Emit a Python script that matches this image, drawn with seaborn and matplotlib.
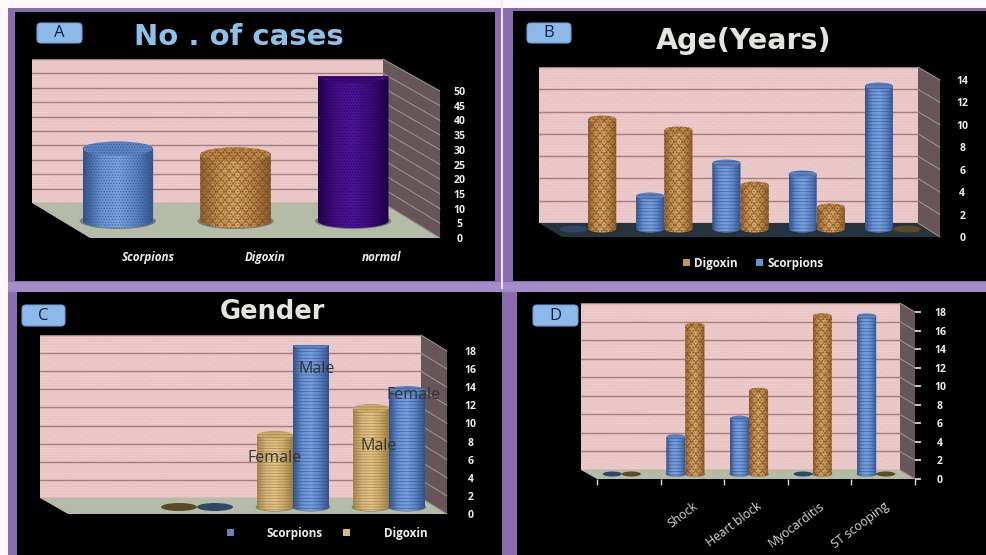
import numpy as np
import pandas as pd
import matplotlib
matplotlib.use("Agg")
import matplotlib.pyplot as plt
import seaborn as sns
from matplotlib.colors import LinearSegmentedColormap, to_rgba
from matplotlib.patches import Ellipse, FancyBboxPatch, Patch, Polygon, Rectangle

# ---- chart values -------------------------------------------------------
CASE_GROUPS = ["Scorpions", "Digoxin", "normal"]
CASE_COUNTS = [25, 23, 50]

AGE_BANDS = ["1", "2", "3", "4", "5"]
AGE_SCORPIONS = [0, 3, 6, 5, 13]
AGE_DIGOXIN = [10, 9, 4, 2, 0]

GENDER_SLOTS = ["none", "first", "second"]
GENDER_DIGOXIN = [0, 8, 11]
GENDER_SCORPIONS = [0, 18, 13]
GENDER_TAGS = [("Digoxin", 1, "Female"), ("Scorpions", 1, "Male"),
               ("Digoxin", 2, "Male"), ("Scorpions", 2, "Female")]

ECG_FINDINGS = ["", "Shock", "Heart block", "Myocarditis", "ST scooping"]
ECG_SCORPIONS = [0, 4, 6, 0, 17]
ECG_DIGOXIN = [0, 16, 9, 17, 0]

CASE_TICKS = list(range(0, 51, 5))
AGE_TICKS = list(range(0, 15, 2))
COUNT_TICKS = list(range(0, 19, 2))

# ---- styling ------------------------------------------------------------
W, H = 987, 555
sns.set_theme(style="white")
plt.rcParams["font.family"] = ["Open Sans", "DejaVu Sans"]
plt.rcParams["hatch.linewidth"] = 0.6

PINK, GRID = "#eccaca", "#a67c80"
SAGE, SLATE = "#b4bca8", "#26323c"
SIDE, SIDE_LINE = "#66565a", "#a59698"
FRAME = "#8a6cae"

BLUE_STOPS = ["#34558f", "#6a92d2", "#7aa2e0", "#5c84c4", "#34558f"]
STYLES = {
    "blue": (BLUE_STOPS, "#2c4a80", "......"),
    "banded": (BLUE_STOPS, "#2c4a80", "-----"),
    "orange": (["#94642f", "#c99553", "#dcaa6a", "#c08a4a", "#8c5e2c"], "#6e421c", "xxxx......"),
    "tan": (["#a98a4e", "#d9b878", "#e6c88c", "#d0ae6c", "#a08248"], "#8a6c3a", "------"),
    "purple": (["#230050", "#45108a", "#4c1498", "#3c0c7c", "#200048"], "#1a0040", "......"),
}
ZERO_DISC = {"blue": "#2f4868", "banded": "#2f4868", "orange": "#5a4a28", "tan": "#5a4a28"}


def px_axes(fig, x0, x1, top, bottom, z):
    """Axes placed by pixel edges, measured from the top-left of the figure."""
    ax = fig.add_axes([x0 / W, 1 - bottom / H, (x1 - x0) / W, (bottom - top) / H])
    ax.set_zorder(z)
    return ax


def draw_cylinders(ax, names, half_cap):
    """Turn the flat seaborn bars into shaded cylinders with elliptical caps."""
    y0, y1 = ax.get_ylim()
    x0, x1 = ax.get_xlim()
    pos = ax.get_position()
    per_unit = pos.height * H / (y1 - y0)
    cap = half_cap / per_unit
    for container, name in zip(ax.containers, names):
        stops, ink, hatch = STYLES[name]
        ink = to_rgba(ink, 0.6)
        cmap = LinearSegmentedColormap.from_list(name, stops)
        for bar in container:
            left, width, value = bar.get_x(), bar.get_width(), bar.get_height()
            mid = left + width / 2
            if value == 0:
                bar.set_visible(False)
                ax.add_patch(Ellipse((mid, 0), width, 2 * cap,
                                     color=ZERO_DISC.get(name, "#333333"), lw=0, zorder=2))
                continue
            ax.add_patch(Ellipse((mid, 0), width * 1.08, 2.3 * cap,
                                 color="#20241f", alpha=0.4, lw=0, zorder=1))
            t = np.linspace(np.pi, 2 * np.pi, 40)
            rim = np.column_stack([mid + width / 2 * np.cos(t), cap * np.sin(t)])
            outline = np.vstack([[left, value], rim, [left + width, value]])
            image = ax.imshow(np.linspace(0, 1, 64)[None, :], cmap=cmap, aspect="auto",
                              extent=(left, left + width, -cap, value), zorder=3)
            image.set_clip_path(Polygon(outline, closed=True, transform=ax.transData))
            bar.set_facecolor("none")
            bar.set_edgecolor(ink)
            bar.set_hatch(hatch)
            bar.set_linewidth(0)
            bar.set_zorder(4)
            ax.add_patch(Polygon(rim, closed=True, facecolor="none", edgecolor=ink,
                                 hatch=hatch, lw=0, zorder=4))
            ax.add_patch(Ellipse((mid, value), width, 2 * cap, facecolor=stops[3],
                                 edgecolor=ink, hatch=hatch, lw=0, zorder=5))
    ax.set_xlim(x0, x1)
    ax.set_ylim(y0, y1)
    ax.axis("off")


def draw_stage(fig, bg, g, ticks, floor):
    """Back wall, floor, side wall and the front scale of one 3-D looking plot."""
    ymax = ticks[-1]
    wx0, wx1, wtop, wbot = g["wall"]
    fx0, fx1, ftop, fbot = g["front"]
    bg.add_patch(Polygon([(wx0, wbot), (wx1, wbot), (fx1, fbot), (fx0, fbot)], color=floor, lw=0, zorder=2))
    bg.add_patch(Polygon([(wx1, wtop), (fx1, ftop), (fx1, fbot), (wx1, wbot)], color=SIDE, lw=0, zorder=2))
    for v in ticks:
        f = v / ymax
        bg.plot([wx1, fx1], [wbot + (wtop - wbot) * f, fbot + (ftop - fbot) * f],
                color=SIDE_LINE, lw=0.7, zorder=3)

    wall = px_axes(fig, wx0, wx1, wtop, wbot, 1)
    wall.set_facecolor(PINK)
    wall.patch.set_edgecolor("#e3bcbc")
    wall.patch.set_hatch("......")
    wall.patch.set_linewidth(0)
    wall.set_ylim(0, ymax)
    wall.set_yticks(ticks)
    wall.grid(axis="y", color=GRID, lw=1.0)
    wall.set_xticks([])
    wall.tick_params(left=False, labelleft=False)
    sns.despine(ax=wall, left=True, bottom=True, right=True, top=True)

    front = px_axes(fig, fx0, fx1, ftop, fbot, 2)
    front.patch.set_alpha(0)
    front.set_ylim(0, ymax)
    front.set_yticks(ticks)
    front.yaxis.tick_right()
    front.tick_params(axis="y", right=g.get("ticklen", 0) > 0, length=g.get("ticklen", 0),
                      color="#dddddd", pad=g["pad"], labelsize=7.6, labelcolor="#eeeeee")
    for label in front.get_yticklabels():
        label.set_ha("center")
        label.set_fontweight("bold")
    sns.despine(ax=front, left=True, bottom=True, right=True, top=True)
    return front


def bar_layer(fig, g, ymax):
    x0, x1, base, per_unit, under = g["bars"]
    ax = px_axes(fig, x0, x1, base - per_unit * ymax, base + under, 3)
    ax.patch.set_alpha(0)
    return ax, (-under / per_unit, ymax)


def badge(x0, x1, y0, y1, letter):
    overlay.add_patch(FancyBboxPatch((x0 + 3, y0 + 3), x1 - x0 - 6, y1 - y0 - 6,
                                     boxstyle="round,pad=3,rounding_size=4", facecolor="#8db9ea",
                                     edgecolor="#6f9cd4", lw=0.8, zorder=20))
    overlay.text((x0 + x1) / 2, (y0 + y1) / 2, letter, ha="center", va="center",
                 color="#10203c", fontsize=12, zorder=21)


def bottom_legend(ax, names, colors, x, y, gap, spacing):
    handles = [Patch(facecolor=c, edgecolor="none", label=n) for n, c in zip(names, colors)]
    ax.legend(handles=handles, loc="center", bbox_to_anchor=(x / W, 1 - y / H),
              bbox_transform=fig.transFigure, ncols=2, frameon=False,
              labelcolor="#eeeeee", handlelength=0.6, handleheight=0.6,
              handletextpad=gap, columnspacing=spacing,
              prop={"size": 8.4, "weight": "bold"})


# ---- page with the four framed panels -----------------------------------
fig = plt.figure(figsize=(W / 100, H / 100), dpi=100, facecolor="#fbf7fb")
bg = fig.add_axes([0, 0, 1, 1], zorder=0)
bg.set_xlim(0, W)
bg.set_ylim(H, 0)
bg.axis("off")
overlay = fig.add_axes([0, 0, 1, 1], zorder=9)
overlay.set_xlim(0, W)
overlay.set_ylim(H, 0)
overlay.axis("off")

bg.add_patch(Rectangle((8, 8), W - 8, H - 8, color=FRAME, lw=0, zorder=0))
bg.add_patch(Rectangle((8, 282), W - 8, 10, color="#a48cc8", lw=0, zorder=0.5))
bg.add_patch(Rectangle((501, 0), 2, 289, color="#f0e8f4", lw=0, zorder=0.6))
for x0, x1, y0, y1 in [(15, 495, 12, 281), (513, 987, 11, 281), (17, 502, 292, 555), (517, 987, 292, 555)]:
    bg.add_patch(Rectangle((x0, y0), x1 - x0, y1 - y0, color="black", lw=0, zorder=1))

# ---- A: number of cases --------------------------------------------------
geo_a = {"wall": (32, 383, 59, 203), "front": (90, 440, 91, 238), "bars": (59, 412, 221, 2.9, 16), "pad": 14}
front = draw_stage(fig, bg, geo_a, CASE_TICKS, SAGE)
front.set_xlim(-0.5, 2.5)
front.set_xticks(range(3), CASE_GROUPS)
front.tick_params(axis="x", bottom=False, pad=3.5, labelsize=8.4, labelcolor="#eeeeee")
for label in front.get_xticklabels():
    label.set_fontweight("bold")
    label.set_fontstyle("italic")
ax, lim = bar_layer(fig, geo_a, 50)
cases = pd.DataFrame({"group": CASE_GROUPS, "count": CASE_COUNTS})
sns.barplot(data=cases, x="group", y="count", hue="group", order=CASE_GROUPS, hue_order=CASE_GROUPS,
            palette=dict(zip(CASE_GROUPS, ["#6a92d2", "#c99553", "#45108a"])),
            width=0.6, legend=False, errorbar=None, ax=ax)
ax.set_ylim(*lim)
draw_cylinders(ax, ["blue", "orange", "purple"], 7)
bg.text(239, 37, "No . of cases", ha="center", va="center", color="#8cc2ea",
        fontsize=21, fontweight="bold", family="DejaVu Sans", zorder=10)
badge(37, 82, 23, 43, "A")

# ---- B: age ---------------------------------------------------------------
geo_b = {"wall": (539, 918, 67, 223), "front": (562, 940, 80, 237), "bars": (550, 931, 229, 11, 8), "pad": 16}
front = draw_stage(fig, bg, geo_b, AGE_TICKS, SLATE)
front.set_xticks([])
ax, lim = bar_layer(fig, geo_b, 14)
ages = pd.DataFrame({
    "band": AGE_BANDS * 2,
    "series": ["Scorpions"] * 5 + ["Digoxin"] * 5,
    "value": AGE_SCORPIONS + AGE_DIGOXIN,
})
sns.barplot(data=ages, x="band", y="value", hue="series", order=AGE_BANDS, hue_order=["Scorpions", "Digoxin"],
            palette={"Scorpions": "#6a92d2", "Digoxin": "#c99553"},
            width=0.74, gap=0, legend=False, errorbar=None, ax=ax)
ax.set_ylim(*lim)
draw_cylinders(ax, ["banded", "orange"], 3.5)
bottom_legend(ax, ["Digoxin", "Scorpions"], ["#c99553", "#6a92d2"], 753, 263, 0.35, 1.6)
bg.text(744, 41, "Age(Years)", ha="center", va="center", color="#e4e4e0",
        fontsize=20.5, fontweight="bold", family="DejaVu Sans", zorder=10)
badge(527, 571, 23, 43, "B")

# ---- C: gender -------------------------------------------------------------
geo_c = {"wall": (40, 421, 335, 498), "front": (68, 447, 351, 514), "bars": (149, 437, 507, 9, 8), "pad": 17}
front = draw_stage(fig, bg, geo_c, COUNT_TICKS, SAGE)
front.set_xticks([])
ax, lim = bar_layer(fig, geo_c, 18)
gender = pd.DataFrame({
    "slot": GENDER_SLOTS * 2,
    "series": ["Digoxin"] * 3 + ["Scorpions"] * 3,
    "value": GENDER_DIGOXIN + GENDER_SCORPIONS,
})
sns.barplot(data=gender, x="slot", y="value", hue="series", order=GENDER_SLOTS, hue_order=["Digoxin", "Scorpions"],
            palette={"Digoxin": "#d9b878", "Scorpions": "#6a92d2"},
            width=0.75, gap=0, legend=False, errorbar=None, ax=ax)
ax.set_ylim(*lim)
draw_cylinders(ax, ["tan", "banded"], 4)
series_values = {"Digoxin": GENDER_DIGOXIN, "Scorpions": GENDER_SCORPIONS}
series_side = {"Digoxin": -0.19, "Scorpions": 0.19}
for (series, slot, tag), share, nudge in zip(GENDER_TAGS, [0.68, 0.85, 0.62, 0.96], [0.0, 0.06, 0.08, 0.07]):
    ax.text(slot + series_side[series] + nudge, series_values[series][slot] * share, tag,
            ha="center", va="center", color="#333336", fontsize=11.5, zorder=8, clip_on=False)
bottom_legend(ax, ["Scorpions", "Digoxin"], ["#6a80c0", "#d9b878"], 327, 533, 2.85, 1.75)
bg.text(272, 312, "Gender", ha="center", va="center", color="#e4e4e0",
        fontsize=18.5, fontweight="bold", family="DejaVu Sans", zorder=10)
badge(22, 65, 305, 326, "C")

# ---- D: ECG findings --------------------------------------------------------
geo_d = {"wall": (581, 900, 303, 470), "front": (597, 915, 312, 479), "bars": (590, 908, 474, 9.3, 6),
         "pad": 14, "ticklen": 4}
front = draw_stage(fig, bg, geo_d, COUNT_TICKS, SAGE)
front.set_xlim(-0.5, 4.5)
front.set_xticks(range(5), ECG_FINDINGS, rotation=37, ha="right", rotation_mode="anchor")
front.set_xticks(np.arange(-0.5, 5), minor=True)
front.tick_params(axis="x", which="major", bottom=False, pad=9, labelsize=8.8, labelcolor="#d8d8d8")
front.tick_params(axis="x", which="minor", bottom=True, length=4, color="#dddddd")
ax, lim = bar_layer(fig, geo_d, 18)
ecg = pd.DataFrame({
    "finding": ECG_FINDINGS * 2,
    "series": ["Scorpions"] * 5 + ["Digoxin"] * 5,
    "value": ECG_SCORPIONS + ECG_DIGOXIN,
})
sns.barplot(data=ecg, x="finding", y="value", hue="series", order=ECG_FINDINGS, hue_order=["Scorpions", "Digoxin"],
            palette={"Scorpions": "#6a92d2", "Digoxin": "#c99553"},
            width=0.6, gap=0, legend=False, errorbar=None, ax=ax)
ax.set_ylim(*lim)
draw_cylinders(ax, ["banded", "orange"], 2.5)
badge(533, 578, 305, 326, "D")

fig.savefig("out.png", dpi=100, facecolor=fig.get_facecolor())
